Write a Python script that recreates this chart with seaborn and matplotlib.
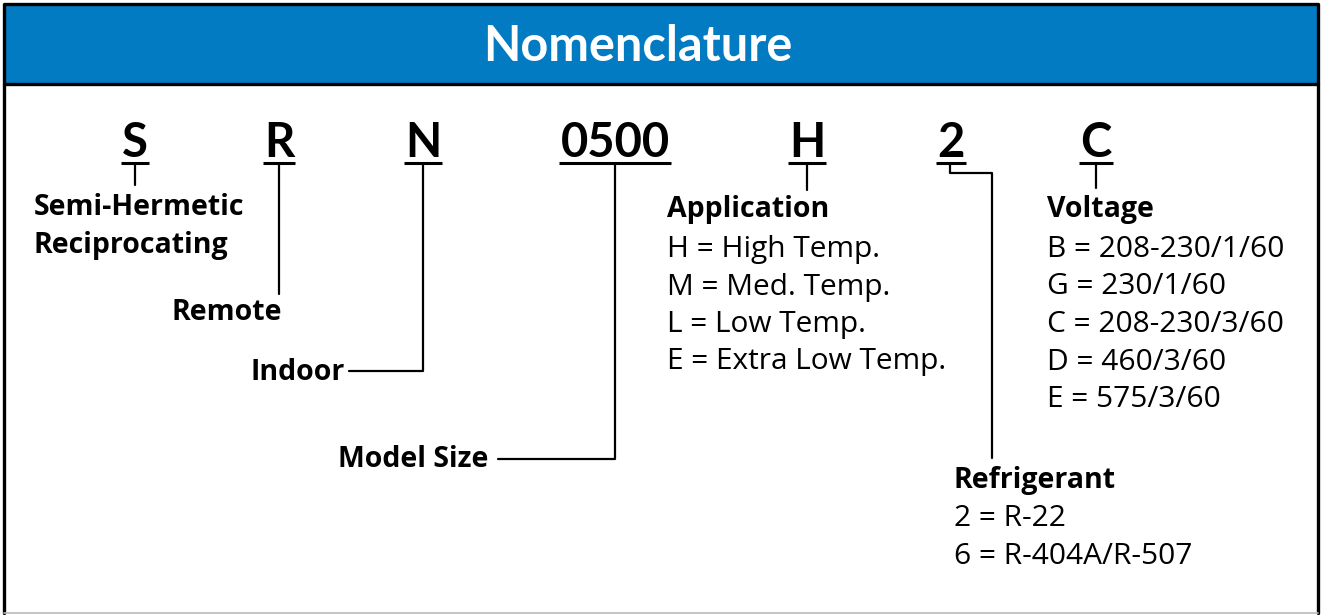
import matplotlib
matplotlib.use("Agg")
import matplotlib.pyplot as plt
import seaborn as sns
import pandas as pd

# nomenclature content
title = "Nomenclature"
codes = ["S", "R", "N", "0500", "H", "2", "C"]
code_labels = ["Semi-Hermetic\nReciprocating", "Remote", "Indoor", "Model Size",
               "Application", "Refrigerant", "Voltage"]
application_options = ["H = High Temp.", "M = Med. Temp.", "L = Low Temp.", "E = Extra Low Temp."]
refrigerant_options = ["2 = R-22", "6 = R-404A/R-507"]
voltage_options = ["B = 208-230/1/60", "G = 230/1/60", "C = 208-230/3/60",
                   "D = 460/3/60", "E = 575/3/60"]

sns.set_theme(style="white")
plt.rcParams["font.family"] = ["Open Sans", "DejaVu Sans"]
head_font = ["Lato", "DejaVu Sans"]

W, H = 1322, 615
fig = plt.figure(figsize=(W / 100, H / 100), dpi=100)
ax = fig.add_axes([0, 0, 1, 1])
ax.set_xlim(0, W)
ax.set_ylim(H, 0)
ax.axis("off")

# frame + header band
blue = "#027BC2"
ax.add_patch(plt.Rectangle((4, 4), 1314, 80, facecolor=blue, edgecolor="none"))
ax.plot([4, 1318], [84, 84], color="black", lw=2.4)
ax.plot([4, 4, 1318, 1318], [613, 4, 4, 613], color="black", lw=2.4)
ax.plot([4, 1318], [613, 613], color="#bbbbbb", lw=1.2)
ax.text(638, 61, title, color="white", fontsize=35, fontweight="bold",
        ha="center", va="baseline", family=head_font)

# code letters along the top row
code_x = [135, 279, 423, 615, 807, 951, 1096]
code_base = 157
under_y = 163
code_texts = []
for cx, c in zip(code_x, codes):
    code_texts.append(ax.text(cx, code_base, c, fontsize=34, fontweight="bold", ha="center",
                              va="baseline", color="black", family=head_font))
fig.canvas.draw()
inv = ax.transData.inverted()
for t in code_texts:
    bb = t.get_window_extent()
    x0 = inv.transform((bb.x0, bb.y0))[0]
    x1 = inv.transform((bb.x1, bb.y0))[0]
    ax.plot([x0 - 1, x1 + 1], [under_y, under_y], color="black", lw=2.2, solid_capstyle="butt")

# connector paths from each code to its description
paths = {
    "S": [(135, 163), (135, 185)],
    "R": [(279, 163), (279, 294)],
    "N": [(423, 163), (423, 371), (349, 371)],
    "0500": [(615, 163), (615, 459), (498, 459)],
    "H": [(807, 163), (807, 190)],
    "2": [(950, 163), (950, 173), (992, 173), (992, 458)],
    "C": [(1096, 163), (1096, 188)],
}
rows = []
for k, pts in paths.items():
    for i, (px, py) in enumerate(pts):
        rows.append({"code": k, "order": i, "x": px, "y": py})
conn = pd.DataFrame(rows)
sns.lineplot(data=conn, x="x", y="y", units="code", estimator=None, sort=False,
             color="black", lw=1.6, ax=ax, legend=False)
ax.set_xlim(0, W)
ax.set_ylim(H, 0)
ax.axis("off")

fs_lab = 20.5
fs_opt = 21.5
step = 37.5
lab_pos = [(34, 215, "left"), (172, 320, "left"), (345, 380, "right"), (488, 467, "right"),
           (667, 217, "left"), (954, 488, "left"), (1047, 217, "left")]
for (lx, ly, ha), lab in zip(lab_pos, code_labels):
    for j, line in enumerate(lab.split("\n")):
        ax.text(lx, ly + j * step, line, fontsize=fs_lab, fontweight="bold", ha=ha,
                va="baseline", color="black")

for i, s in enumerate(application_options):
    ax.text(667, 257 + i * step, s, fontsize=fs_opt, ha="left", va="baseline", color="black")
for i, s in enumerate(voltage_options):
    ax.text(1047, 257 + i * step, s, fontsize=fs_opt, ha="left", va="baseline", color="black")
for i, s in enumerate(refrigerant_options):
    ax.text(954, 526 + i * step, s, fontsize=fs_opt, ha="left", va="baseline", color="black")

fig.savefig("out.png", dpi=100)
